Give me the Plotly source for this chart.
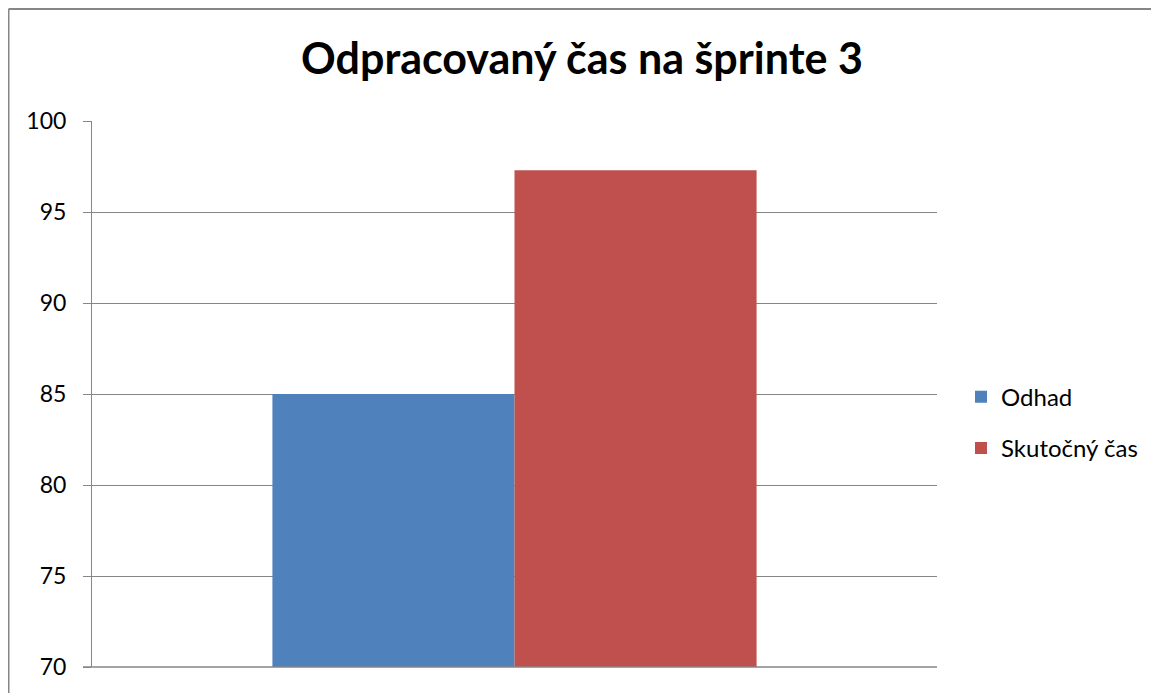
import plotly.graph_objects as go

categories = ["Šprint 3"]
odhad = [85]
skutocny = [97.3]
series_names = ["Odhad", "Skutočný čas"]
y_ticks = [70, 75, 80, 85, 90, 95, 100]

W, H = 1151, 685
L, R, T, B = 84, 929, 112.5, 659

def px_x(p):
    return (p - L) / (R - L)

def px_y(p):
    return (B - p) / (B - T)

fig = go.Figure()
fig.add_trace(go.Bar(x=categories, y=odhad, name=series_names[0],
                     marker=dict(color="#4F81BD", line=dict(width=0)),
                     legendgroup="a"))
fig.add_trace(go.Bar(x=categories, y=skutocny, name=series_names[1],
                     marker=dict(color="#C0504D", line=dict(width=0)),
                     legendgroup="b"))

border = dict(color="#868686", width=2)

fig.update_layout(
    width=W, height=H,
    margin=dict(l=L, r=W - R, t=T, b=H - B, pad=0),
    plot_bgcolor="white", paper_bgcolor="white",
    barmode="group", bargap=0.427, bargroupgap=0,
    font=dict(family="Lato, 'Noto Sans', sans-serif", color="#000000"),
    title=dict(text="<b>Odpracovaný čas na šprinte 3</b>",
               x=574 / W, xref="container", xanchor="center",
               y=1 - 51 / H, yref="container", yanchor="middle",
               font=dict(size=43, family="Lato, 'Noto Sans', sans-serif")),
    showlegend=True,
    legend=dict(x=px_x(953), y=px_y(414.5), xanchor="left", yanchor="middle",
                font=dict(size=24), tracegroupgap=17, itemwidth=30,
                bgcolor="rgba(0,0,0,0)"),
    xaxis=dict(showticklabels=False, showgrid=False, zeroline=False,
               showline=False, ticks=""),
    yaxis=dict(range=[70, 100], tickvals=y_ticks, showgrid=True,
               gridcolor="#868686", gridwidth=1, zeroline=False,
               showline=True, linecolor="#868686", linewidth=1,
               ticks="outside", ticklen=8, tickcolor="#868686",
               tickfont=dict(size=23), ticklabelstandoff=12),
    shapes=[
        dict(type="line", xref="paper", yref="paper",
             x0=px_x(0.5), x1=px_x(W), y0=px_y(0.5), y1=px_y(0.5),
             line=border, layer="above"),
        dict(type="line", xref="paper", yref="paper",
             x0=px_x(0.5), x1=px_x(0.5), y0=px_y(0.5), y1=px_y(H),
             line=border, layer="above"),
        dict(type="line", xref="paper", yref="paper",
             x0=px_x(75), x1=1, y0=0, y1=0,
             line=dict(color="#868686", width=1.5), layer="above"),
    ],
)

fig.write_html("out.html")
